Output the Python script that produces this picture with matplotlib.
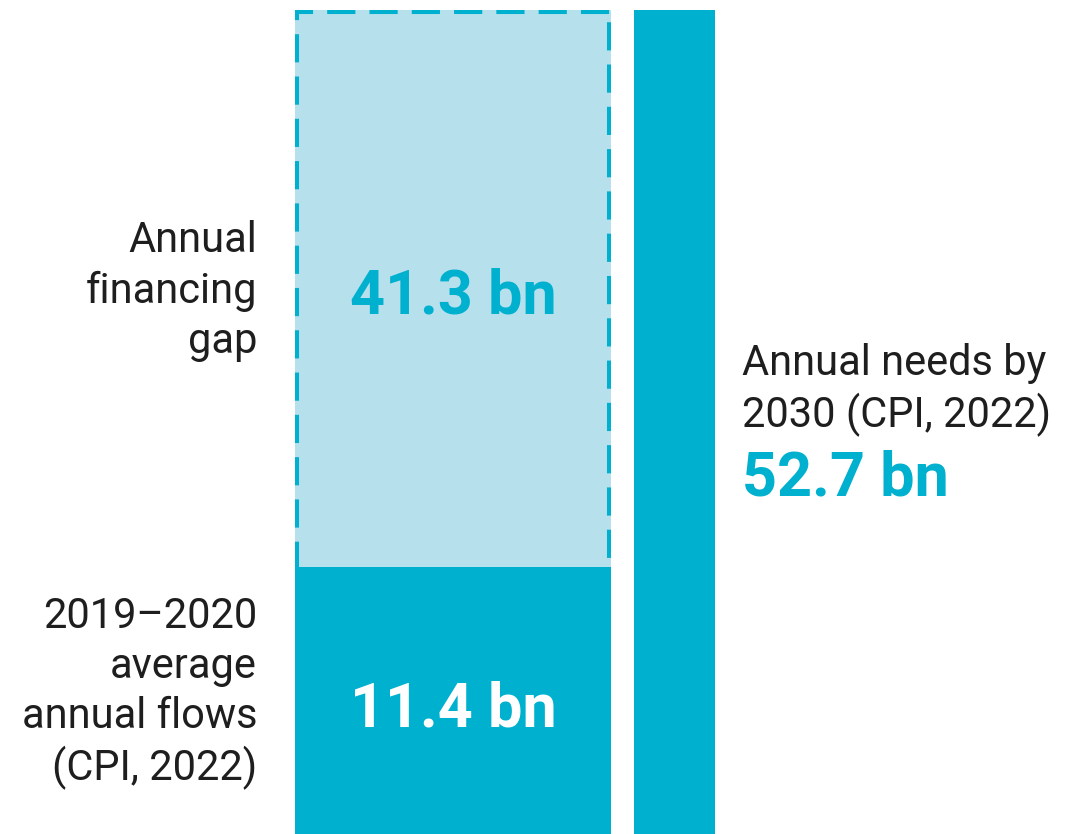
import matplotlib.pyplot as plt

plt.rcParams['font.family'] = ['Roboto', 'DejaVu Sans']

# values shown in the chart (bn)
flows = 11.4
gap = 41.3
needs = 52.7
# height of the flows segment as drawn in the original (bars are not to scale)
flows_drawn = 17.1

flows_label = '2019\u20132020\naverage\nannual flows\n(CPI, 2022)'
gap_label = 'Annual\nfinancing\ngap'
needs_label = 'Annual needs by\n2030 (CPI, 2022)'

dark = '#00B0CF'
light = '#B5E0EC'
ink = '#1E1E1E'

fig = plt.figure(figsize=(10.76, 8.34), dpi=100)
ax = fig.add_axes([0, 0, 1, 1])
ax.set_xlim(-2.045, 2.813)
ax.set_ylim(0, needs * 834 / 824)
ax.axis('off')

# light "gap" bar, full height, dashed outline kept inside the bar
light_bar = ax.bar(0, needs, width=1.427, color=light, edgecolor=dark,
                   linewidth=5.8, linestyle=(0, (3.5, 1.75)), zorder=1)[0]
light_bar.set_clip_path(light_bar)

# dark "flows" segment on top of it
ax.bar(0, flows_drawn, width=1.427, color=dark, linewidth=0, zorder=2)

# needs bar
ax.bar(1, needs, width=0.366, color=dark, linewidth=0, zorder=2)

# value labels
ax.text(0, (flows_drawn + needs) / 2 - 0.55, f'{gap} bn', ha='center', va='center',
        fontsize=44, fontweight='bold', color=dark, zorder=3)
ax.text(0, flows_drawn / 2 - 0.6, f'{flows} bn', ha='center', va='center',
        fontsize=44, fontweight='bold', color='white', zorder=3)

# side labels
fig.text(257 / 1076, 1 - 291 / 834, gap_label, ha='right', va='center',
         fontsize=30, color=ink, linespacing=1.28)
fig.text(257 / 1076, 1 - 693 / 834, flows_label, ha='right', va='center',
         fontsize=30, color=ink, linespacing=1.28)
fig.text(742 / 1076, 1 - 390 / 834, needs_label, ha='left', va='center',
         fontsize=30, color=ink, linespacing=1.28)
fig.text(742 / 1076, 1 - 478 / 834, f'{needs} bn', ha='left', va='center',
         fontsize=44, fontweight='bold', color=dark)

plt.savefig('out.png', dpi=100)
